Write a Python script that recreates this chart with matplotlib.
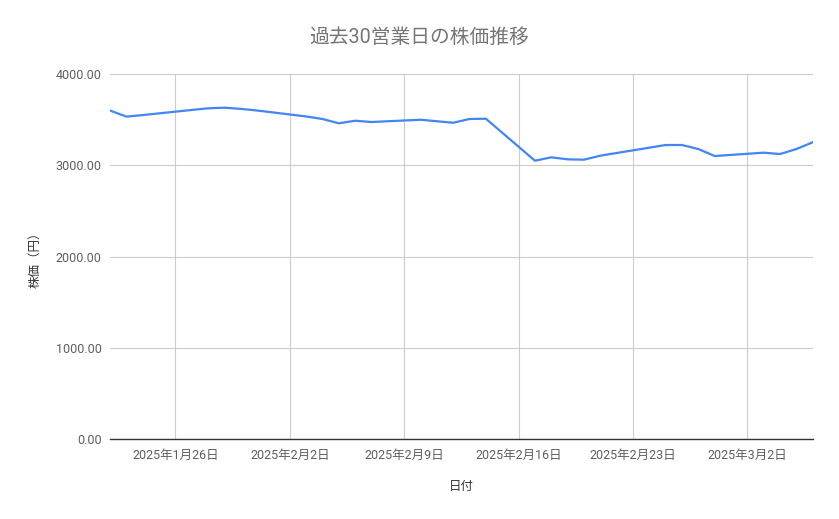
import datetime as dt
import matplotlib
matplotlib.use('Agg')
import matplotlib.pyplot as plt
import matplotlib.dates as mdates
from matplotlib.ticker import FuncFormatter

plt.rcParams['font.family'] = ['Roboto', 'Noto Sans CJK JP', 'DejaVu Sans']

# 営業日（祝日 2/11, 2/24 を除く）
dates = ['2025-01-22', '2025-01-23', '2025-01-24', '2025-01-27', '2025-01-28',
         '2025-01-29', '2025-01-30', '2025-01-31', '2025-02-03', '2025-02-04',
         '2025-02-05', '2025-02-06', '2025-02-07', '2025-02-10', '2025-02-12',
         '2025-02-13', '2025-02-14', '2025-02-17', '2025-02-18', '2025-02-19',
         '2025-02-20', '2025-02-21', '2025-02-25', '2025-02-26', '2025-02-27',
         '2025-02-28', '2025-03-03', '2025-03-04', '2025-03-05', '2025-03-06']
prices = [3600, 3533, 3550, 3606, 3624,
          3631, 3618, 3600, 3535, 3507,
          3460, 3488, 3474, 3499, 3466,
          3507, 3510, 3050, 3087, 3065,
          3061, 3105, 3222, 3222, 3178,
          3101, 3138, 3123, 3178, 3252]
tick_dates = ['2025-01-26', '2025-02-02', '2025-02-09', '2025-02-16', '2025-02-23', '2025-03-02']
y_ticks = [0, 1000, 2000, 3000, 4000]

x = [dt.datetime.strptime(d, '%Y-%m-%d') for d in dates]
xt = [dt.datetime.strptime(d, '%Y-%m-%d') for d in tick_dates]

fig = plt.figure(figsize=(8.39, 5.19), dpi=100)
ax = fig.add_axes([0.1311, 0.1541, 0.8376, 0.7033])

ax.plot(x, prices, color='#4285F4', linewidth=1.6)

ax.set_xlim(x[0], x[-1])
ax.set_ylim(0, 4000)
ax.set_xticks(xt)
ax.xaxis.set_major_formatter(FuncFormatter(
    lambda v, p: '{0}年{1}月{2}日'.format(mdates.num2date(v).year, mdates.num2date(v).month, mdates.num2date(v).day)))
ax.set_yticks(y_ticks)
ax.yaxis.set_major_formatter(FuncFormatter(lambda v, p: '%.2f' % v))

ax.grid(True, color='#cccccc', linewidth=0.8)
ax.set_axisbelow(True)
for s in ['top', 'right', 'left']:
    ax.spines[s].set_visible(False)
ax.spines['bottom'].set_color('#333333')
ax.spines['bottom'].set_linewidth(1.0)
ax.spines['bottom'].set_zorder(3)
ax.tick_params(axis='both', length=0, labelsize=9, colors='#5f5f5f')
ax.tick_params(axis='x', pad=7)
ax.tick_params(axis='y', pad=6)

ax.set_xlabel('日付', fontsize=9, color='#333333', labelpad=13)
ax.set_ylabel('株価（円）', fontsize=9, color='#333333', labelpad=10.5)

fig.text(0.5, 0.927, '過去30営業日の株価推移', ha='center', va='center',
         fontsize=14.2, color='#757575')

fig.savefig('out.png', dpi=100)
